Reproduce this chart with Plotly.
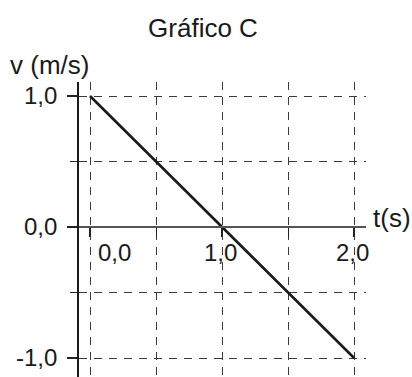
import plotly.graph_objects as go

# Data
t_values = [0.0, 2.0]
v_values = [1.0, -1.0]
x_tick_vals = [0, 1, 2]
x_tick_text = ["0,0", "1,0", "2,0"]
y_tick_vals = [-1, 0, 1]
y_tick_text = ["-1,0", "0,0", "1,0"]
title_text = "Gráfico C"
x_label = "t(s)"
y_label = "v (m/s)"

FONT = "Liberation Sans, Arial, Helvetica, sans-serif"
GRID = "#3a3a3a"
TXT = "#1a1a1a"

fig = go.Figure()
fig.add_trace(go.Scatter(x=t_values, y=v_values, mode="lines",
                         line=dict(color=TXT, width=2.6),
                         hoverinfo="skip", showlegend=False))

W, H = 412, 377
L, R, T, B = 79, 46, 82, 0
ph = H - T - B
pw = W - L - R
x0_pos = (H - 227 - B) / ph  # paper fraction for v = 0

dash = "8px,7px"
fig.update_layout(
    width=W, height=H,
    margin=dict(l=L, r=R, t=T, b=B, autoexpand=False),
    paper_bgcolor="white", plot_bgcolor="white",
    font=dict(family=FONT, size=24, color=TXT),
    title=dict(text=title_text, x=(203) / W, xanchor="center",
               y=1 - 28 / H, yanchor="middle", yref="container",
               font=dict(family=FONT, size=26, color=TXT)),
    xaxis=dict(range=[-0.0833, 2.09], anchor="free", position=x0_pos,
               showline=True, linecolor="#555", linewidth=1.6,
               tickvals=x_tick_vals, showticklabels=False,
               ticks="outside", ticklen=9, tickwidth=1.6, tickcolor="#222",
               showgrid=True, gridcolor=GRID, griddash=dash, gridwidth=1.2,
               minor=dict(dtick=0.5, tick0=0, ticks="outside", ticklen=9, tickwidth=1.4,
                          tickcolor="#222", showgrid=True, gridcolor=GRID,
                          griddash=dash, gridwidth=1.2),
               zeroline=False, fixedrange=True, automargin=False),
    yaxis=dict(range=[-1.145, 1.107],
               showline=True, linecolor=TXT, linewidth=1.6,
               tickvals=y_tick_vals, ticktext=y_tick_text,
               ticks="outside", ticklen=10, tickwidth=1.6, tickcolor="#222",
               ticklabelstandoff=5,
               tickfont=dict(family=FONT, size=24, color=TXT),
               showgrid=True, gridcolor=GRID, griddash=dash, gridwidth=1.2,
               minor=dict(dtick=0.5, tick0=0, ticks="outside", ticklen=7, tickwidth=1.4,
                          tickcolor="#222", showgrid=True, gridcolor=GRID,
                          griddash=dash, gridwidth=1.2),
               zeroline=False, fixedrange=True, automargin=False),
)

# x tick labels below the v = 0 axis
for tv, tt in zip(x_tick_vals, x_tick_text):
    fig.add_annotation(x=tv, y=0, xref="x", yref="y", text=tt, showarrow=False,
                       xanchor="center", yanchor="middle",
                       xshift=24 if tv == 0 else -2, yshift=-25,
                       font=dict(family=FONT, size=24, color=TXT))

fig.add_annotation(x=(8 - L) / pw, y=(H - 65) / ph, xref="paper", yref="paper",
                   text=y_label, showarrow=False, xanchor="left", yanchor="middle",
                   font=dict(family=FONT, size=26, color=TXT))
fig.add_annotation(x=(371 - L) / pw, y=(H - 218) / ph, xref="paper", yref="paper",
                   text=x_label, showarrow=False, xanchor="left", yanchor="middle",
                   font=dict(family=FONT, size=26, color=TXT))

fig.write_html("out.html", config=dict(displayModeBar=False),
               post_script="document.body.style.margin='0';document.body.style.padding='0';")
